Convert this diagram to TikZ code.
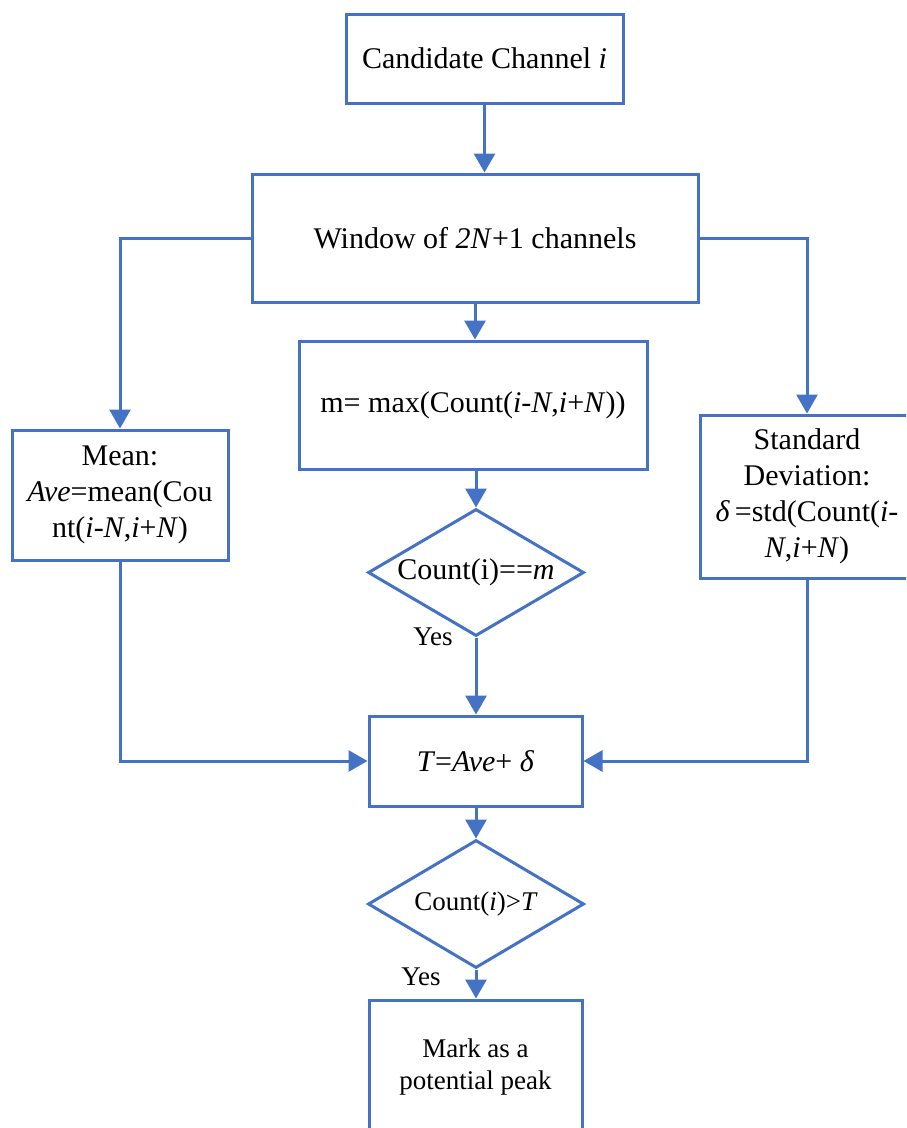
\documentclass[tikz,border=0pt]{standalone}
\usepackage{fontspec}
\setmainfont{Liberation Serif}
\usetikzlibrary{shapes.geometric,arrows.meta}
\definecolor{fblue}{RGB}{68,114,196}
\tikzset{
  every node/.style={font=\fontsize{30}{36}\selectfont},
  box/.style={draw=fblue,line width=3pt,rectangle,inner sep=0pt,align=center},
  dia/.style={draw=fblue,line width=3pt,diamond,aspect=1.7,inner sep=0pt,
    minimum width=216pt,minimum height=127pt,align=center},
  conn/.style={draw=fblue,line width=3pt,-{Triangle[width=21pt,length=19pt]}},
  small/.style={font=\fontsize{27}{32}\selectfont},
}
\begin{document}
\begin{tikzpicture}[x=1pt,y=-1pt]
\useasboundingbox (0,0) rectangle (906,1128);
\clip (0,0) rectangle (906,1128);
\node[box,minimum width=277pt,minimum height=89pt] (cand) at (484.5,58.5) {Candidate Channel \textit{i}};
\node[box,minimum width=446pt,minimum height=128pt] (win) at (475,238) {Window of \textit{2N}+1 channels};
\node[box,minimum width=348pt,minimum height=128pt] (mbox) at (473,405) {m= max(Count(\textit{i}-\textit{N},\textit{i}+\textit{N}))};
\node[box,minimum width=216pt,minimum height=130pt] (mean) at (120,495) {Mean:\\\textit{Ave}=mean(Cou\\nt(\textit{i}-\textit{N},\textit{i}+\textit{N})};
\node[box,minimum width=214pt,minimum height=163pt] (std) at (807,496.5) {Standard\\Deviation:\\\textit{δ}\,=std(Count(\textit{i}-\\\textit{N},\textit{i}+\textit{N})};
\node[dia] (d1) at (476,572.5) {Count(i)==\textit{m}};
\node[small] (yes1) at (433,637) {Yes};
\node[box,minimum width=213pt,minimum height=90pt] (tbox) at (475.5,761) {\textit{T}=\textit{Ave}+ \textit{δ}};
\node[dia,small,minimum height=128pt] (d2) at (476,904) {Count(\textit{i})>\textit{T}};
\node[small] (yes2) at (421,977) {Yes};
\node[box,small,minimum width=213pt,minimum height=134pt] (mark) at (475.5,1067) {Mark as a\\potential peak};

\draw[conn] (cand.south) -- (cand.south |- win.north);
\draw[conn] (win.south) -- (win.south |- mbox.north);
\draw[conn] (win.west) -| (mean.north);
\draw[conn] (win.east) -| (std.north);
\draw[conn] (d1.north |- mbox.south) -- (d1.north);
\draw[conn] (d1.south) -- (d1.south |- tbox.north);
\draw[conn] (mean.south) |- (tbox.west);
\draw[conn] (std.south) |- (tbox.east);
\draw[conn] (d2.north |- tbox.south) -- (d2.north);
\draw[conn] (d2.south) -- (d2.south |- mark.north);
\end{tikzpicture}
\end{document}
